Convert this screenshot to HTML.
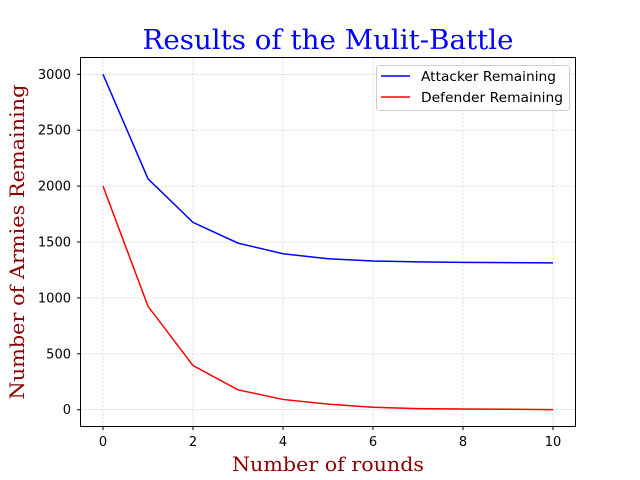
<!DOCTYPE html>
<html><head><meta charset="utf-8"><style>body{margin:0;background:#fff}svg{display:block}</style></head>
<body>
<svg id="chart" width="640" height="480" xmlns="http://www.w3.org/2000/svg">
<rect width="640" height="480" fill="#fff"/>
<text x="328" y="49" text-anchor="middle" font-family="'DejaVu Serif',serif" font-size="27" fill="blue" textLength="371" lengthAdjust="spacingAndGlyphs">Results of the Mulit-Battle</text>
<text x="328" y="471" text-anchor="middle" font-family="'DejaVu Serif',serif" font-size="19.5" fill="#8b0000" textLength="192" lengthAdjust="spacingAndGlyphs">Number of rounds</text>
<text transform="translate(24,242) rotate(-90)" text-anchor="middle" font-family="'DejaVu Serif',serif" font-size="19.5" fill="#8b0000" textLength="315" lengthAdjust="spacingAndGlyphs">Number of Armies Remaining</text>
<g id="grid"></g><g id="ticks"></g><g id="series"></g>
<rect x="80.5" y="57.5" width="495" height="369" fill="none" stroke="#000" stroke-width="1"/>
<g>
<rect x="376.5" y="65.5" width="193" height="45" rx="3" fill="#fff" fill-opacity="0.8" stroke="#ccc"/>
<g><line x1="381" y1="76" x2="410" y2="76" stroke="blue" stroke-width="1.5"/><text x="421" y="81" font-family="'DejaVu Sans',sans-serif" font-size="13" textLength="135" lengthAdjust="spacingAndGlyphs">Attacker Remaining</text></g>
<g><line x1="381" y1="97" x2="410" y2="97" stroke="red" stroke-width="1.5"/><text x="421" y="102" font-family="'DejaVu Sans',sans-serif" font-size="13" textLength="142" lengthAdjust="spacingAndGlyphs">Defender Remaining</text></g>
</g>
</svg>
<script>
const rounds=[0,1,2,3,4,5,6,7,8,9,10];
const attacker=[3000,2065,1675,1490,1395,1350,1330,1322,1318,1315,1313];
const defender=[2000,925,395,178,92,50,22,10,6,4,1];
const xTicks=[0,2,4,6,8,10];
const yTicks=[0,500,1000,1500,2000,2500,3000];
const NS="http://www.w3.org/2000/svg";
const sx=v=>80.5+(v+0.5)/11*495;
const sy=v=>426.5-(v+150)/3300*369;
const grid=document.getElementById('grid'),ticks=document.getElementById('ticks'),ser=document.getElementById('series');
function mk(t,a,p){const e=document.createElementNS(NS,t);for(const k in a)e.setAttribute(k,a[k]);p.appendChild(e);return e;}
xTicks.forEach(v=>{const x=sx(v);
const g=mk('line',{x1:x,y1:57.5,x2:x,y2:426.5,stroke:'#b0b0b0','stroke-width':0.5,'stroke-dasharray':'2,2'},grid);


mk('line',{x1:x,y1:426.5,x2:x,y2:430,stroke:'#000'},ticks);
const t=mk('text',{x:x,y:446,'text-anchor':'middle','font-family':"'DejaVu Sans',sans-serif",'font-size':13},ticks);t.textContent=v;

});
yTicks.forEach(v=>{const y=sy(v);
const g=mk('line',{x1:80.5,y1:y,x2:575.5,y2:y,stroke:'#b0b0b0','stroke-width':0.5,'stroke-dasharray':'2,2'},grid);


mk('line',{x1:77,y1:y,x2:80.5,y2:y,stroke:'#000'},ticks);
const t=mk('text',{x:71,y:y+4.5,'text-anchor':'end','font-family':"'DejaVu Sans',sans-serif",'font-size':13},ticks);t.textContent=v;

});
function line(data,color,name){const p=mk('polyline',{points:data.map((v,i)=>sx(rounds[i])+','+sy(v)).join(' '),fill:'none',stroke:color,'stroke-width':1.5},ser);

}
line(attacker,'blue','attacker-line');
line(defender,'red','defender-line');
</script>
</body></html>
